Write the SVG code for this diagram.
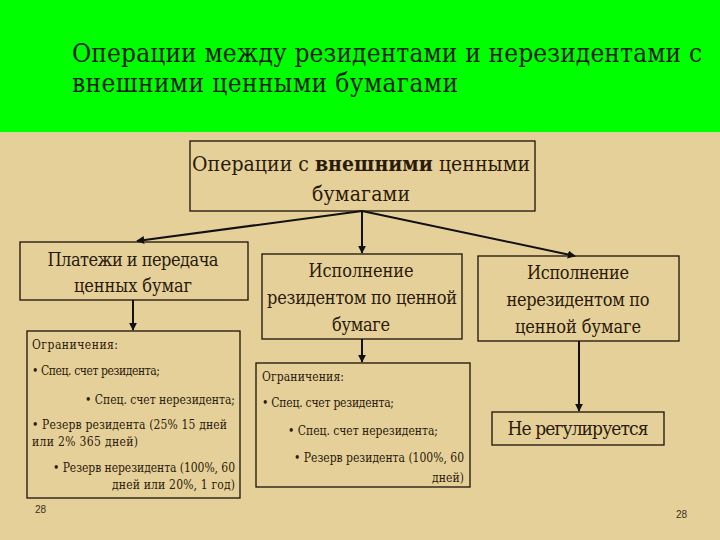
<svg xmlns="http://www.w3.org/2000/svg" width="720" height="540" viewBox="0 0 720 540">
<defs>
<style>
.t{font-family:"DejaVu Serif Condensed","DejaVu Serif",serif;fill:#2a1a08}
.h{font-size:26px;fill:#0c1e0c}
.b{font-size:18px;text-anchor:middle}
.r{font-size:21px}
.s{font-size:12px}
.n{font-family:"Liberation Sans",Arial,sans-serif;font-size:10px;fill:#3a3020}
.box{fill:none;stroke:#1a1208;stroke-width:1.3}
.c{stroke:#111;stroke-width:2;fill:none;marker-end:url(#ah)}
</style>
<marker id="ah" viewBox="0 0 10 10" refX="9" refY="5" markerWidth="4" markerHeight="4" orient="auto"><path d="M0,0L10,5L0,10z" fill="#111"/></marker>
</defs>
<rect width="720" height="540" fill="#e5d09a"/>
<rect width="720" height="132" fill="#00ff00"/>
<g id="title">
<text class="t h" x="72" y="62" textLength="630">Операции между резидентами и нерезидентами с</text>
<text class="t h" x="72" y="92" textLength="386">внешними ценными бумагами</text>
</g>
<g id="connectors">
<line class="c" x1="362" y1="211" x2="137" y2="241"/>
<line class="c" x1="362" y1="211" x2="362" y2="253"/>
<line class="c" x1="362" y1="211" x2="575" y2="256"/>
<line class="c" x1="133" y1="300" x2="133" y2="330"/>
<line class="c" x1="362" y1="339" x2="362" y2="362"/>
<line class="c" x1="579" y1="341" x2="579" y2="411"/>
</g>
<g id="root">
<rect class="box" x="190" y="141" width="345" height="70"/>
<text class="t b r" x="361" y="171" textLength="338">Операции с <tspan font-weight="bold">внешними</tspan> ценными</text>
<text class="t b r" x="361" y="201" textLength="98">бумагами</text>
</g>
<g id="payments">
<rect class="box" x="20" y="242" width="228" height="58"/>
<text class="t b" x="133" y="266" textLength="171">Платежи и передача</text>
<text class="t b" x="133" y="292" textLength="118">ценных бумаг</text>
</g>
<g id="resident">
<rect class="box" x="262" y="254" width="200" height="85"/>
<text class="t b" x="361" y="277" textLength="105">Исполнение</text>
<text class="t b" x="362" y="304" textLength="190">резидентом по ценной</text>
<text class="t b" x="361" y="331" textLength="58">бумаге</text>
</g>
<g id="nonresident">
<rect class="box" x="478" y="256" width="201" height="85"/>
<text class="t b" x="578" y="279" textLength="102">Исполнение</text>
<text class="t b" x="578" y="306" textLength="143">нерезидентом по</text>
<text class="t b" x="578" y="333" textLength="126">ценной бумаге</text>
</g>
<g id="restr-left">
<rect class="box" x="27" y="331" width="213" height="167"/>
<text class="t s" x="32" y="349" textLength="86">Ограничения:</text>
<text class="t s" x="32" y="375" textLength="128">• Спец. счет резидента;</text>
<text class="t s" x="235" y="404" text-anchor="end" textLength="150">• Спец. счет нерезидента;</text>
<text class="t s" x="32" y="429" textLength="195">• Резерв резидента (25% 15 дней</text>
<text class="t s" x="32" y="446" textLength="106">или 2% 365 дней)</text>
<text class="t s" x="235" y="472" text-anchor="end" textLength="182">• Резерв нерезидента (100%, 60</text>
<text class="t s" x="235" y="489" text-anchor="end" textLength="123">дней или 20%, 1 год)</text>
</g>
<g id="restr-mid">
<rect class="box" x="256" y="363" width="214" height="124"/>
<text class="t s" x="262" y="381" textLength="82">Ограничения:</text>
<text class="t s" x="262" y="407" textLength="132">• Спец. счет резидента;</text>
<text class="t s" x="288" y="435" textLength="150">• Спец. счет нерезидента;</text>
<text class="t s" x="464" y="462" text-anchor="end" textLength="170">• Резерв резидента (100%, 60</text>
<text class="t s" x="464" y="482" text-anchor="end" textLength="32">дней)</text>
</g>
<g id="unregulated">
<rect class="box" x="492" y="412" width="172" height="33"/>
<text class="t b" x="578" y="435" style="font-size:19px" textLength="141">Не регулируется</text>
</g>
<text class="n" x="35" y="513">28</text>
<text class="n" x="676" y="518">28</text>
</svg>
